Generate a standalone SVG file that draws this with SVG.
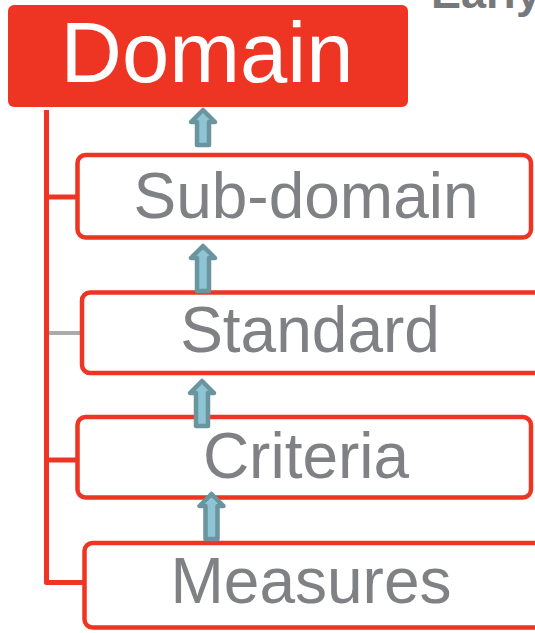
<svg xmlns="http://www.w3.org/2000/svg" width="535" height="633" viewBox="0 0 535 633">
<style>
.box{fill:#fff;stroke:#EE3524;stroke-width:4.5}
.lbl{font-family:"Liberation Sans",Arial,sans-serif;font-size:64px;fill:#808184;text-anchor:middle}
.conn{fill:none;stroke:#EE3524;stroke-width:5;stroke-linejoin:round}
.arr{fill:#8EC5D5;stroke:#6A949E;stroke-width:4.5;stroke-linejoin:round}
</style>
<rect width="535" height="633" fill="#fff"/>
<text x="431" y="8" font-family="Liberation Sans,Arial,sans-serif" font-weight="bold" font-size="45" fill="#77787B">Early</text>
<g id="connectors">
<path class="conn" d="M46.5 110 V582.5 H84"/>
<path class="conn" d="M46.5 197 H77"/>
<path class="conn" d="M46.5 460 H77"/>
<path fill="none" stroke="#AAAAAA" stroke-width="4" d="M49 333 H81"/>
</g>
<g id="domain">
<rect x="8" y="5" width="400" height="102" rx="6" fill="#EE3524"/>
<text x="207" y="82" font-family="Liberation Sans,Arial,sans-serif" font-size="85" fill="#fff" text-anchor="middle">Domain</text>
</g>
<g id="subdomain">
<rect class="box" x="77.5" y="155" width="453.5" height="82.5" rx="8"/>
<text class="lbl" x="306" y="218">Sub-domain</text>
</g>
<g id="standard">
<rect class="box" x="82" y="292.5" width="470" height="80.5" rx="8"/>
<text class="lbl" x="310" y="352">Standard</text>
</g>
<g id="criteria">
<rect class="box" x="77.5" y="417" width="453.5" height="80.5" rx="8"/>
<text class="lbl" x="306" y="478">Criteria</text>
</g>
<g id="measures">
<rect class="box" x="84.5" y="543" width="470" height="84.5" rx="8"/>
<text class="lbl" x="311" y="603">Measures</text>
</g>
<g id="arrows">
<path class="arr" d="M203 110 L191 122 H197 V145 H209 V122 H215 Z"/>
<path class="arr" d="M203 246 L191 258 H197 V291 H209 V258 H215 Z"/>
<path class="arr" d="M202 381 L190 393 H196 V426 H208 V393 H214 Z"/>
<path class="arr" d="M211.5 494 L199.5 506 H205.5 V539 H217.5 V506 H223.5 Z"/>
</g>
</svg>
